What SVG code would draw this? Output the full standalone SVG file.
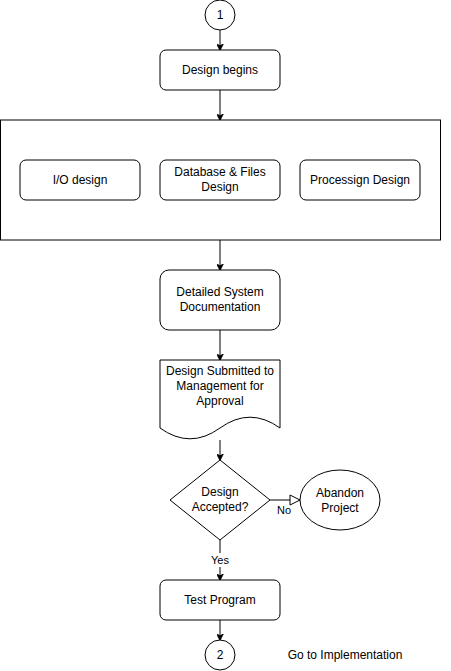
<svg xmlns="http://www.w3.org/2000/svg" width="451" height="671" viewBox="0 0 451 671">
<style>
.s{fill:#fff;stroke:#000;stroke-width:1}
.t{font-family:"Liberation Sans",Arial,sans-serif;font-size:12px;fill:#000;text-anchor:middle;dominant-baseline:central}
.e{fill:none;stroke:#000;stroke-width:1}
.lbl{font-family:"Liberation Sans",Arial,sans-serif;font-size:11px;fill:#000;text-anchor:middle;dominant-baseline:central}
</style>
<defs>
<marker id="a" viewBox="0 0 10 10" refX="9" refY="5" markerWidth="7" markerHeight="7" markerUnits="userSpaceOnUse" orient="auto">
<path d="M0,0 L10,5 L0,10 L3,5 Z" fill="#000" stroke="#000" stroke-width="1"/>
</marker>
<marker id="b" viewBox="0 0 12 12" refX="11" refY="6" markerWidth="12" markerHeight="12" markerUnits="userSpaceOnUse" orient="auto">
<path d="M1,1 L11,6 L1,11 Z" fill="#fff" stroke="#000" stroke-width="1"/>
</marker>
</defs>
<rect width="451" height="671" fill="#fff"/>
<g id="connectors">
<line class="e" x1="220" y1="30" x2="220" y2="50" marker-end="url(#a)"/>
<line class="e" x1="220" y1="90" x2="220" y2="120" marker-end="url(#a)"/>
<line class="e" x1="220" y1="240" x2="220" y2="270" marker-end="url(#a)"/>
<line class="e" x1="220" y1="330" x2="220" y2="360" marker-end="url(#a)"/>
<line class="e" x1="220" y1="440" x2="220" y2="460" marker-end="url(#a)"/>
<line class="e" x1="270" y1="500" x2="300" y2="500" marker-end="url(#b)"/>
<text class="lbl" x="284" y="510" style="fill:#000">No</text>
<line class="e" x1="220" y1="540" x2="220" y2="580" marker-end="url(#a)"/>
<rect x="208" y="553" width="24" height="14" fill="#fff"/>
<text class="lbl" x="220" y="560">Yes</text>
<line class="e" x1="220" y1="620" x2="220" y2="640" marker-end="url(#a)"/>
</g>
<g id="start">
<circle class="s" cx="220" cy="15" r="15"/>
<text class="t" x="220" y="15">1</text>
</g>
<g id="design-begins">
<rect class="s" x="160" y="50" width="120" height="40" rx="6"/>
<text class="t" x="220" y="70">Design begins</text>
</g>
<g id="container">
<rect class="s" x="0.5" y="120" width="440" height="120"/>
</g>
<g id="io-design">
<rect class="s" x="20" y="160" width="120" height="40" rx="6"/>
<text class="t" x="80" y="180">I/O design</text>
</g>
<g id="database-design">
<rect class="s" x="160" y="160" width="120" height="40" rx="6"/>
<text class="t" x="220" y="172">Database &amp; Files</text>
<text class="t" x="220" y="187">Design</text>
</g>
<g id="processing-design">
<rect class="s" x="300" y="160" width="120" height="40" rx="6"/>
<text class="t" x="360" y="180">Processign Design</text>
</g>
<g id="documentation">
<rect class="s" x="160" y="270" width="120" height="60" rx="9"/>
<text class="t" x="220" y="292">Detailed System</text>
<text class="t" x="220" y="307">Documentation</text>
</g>
<g id="submitted">
<path class="s" d="M160,360 L280,360 L280,428 Q250,406.4 220,428 Q190,449.6 160,428 Z"/>
<text class="t" x="220" y="371">Design Submitted to</text>
<text class="t" x="220" y="386">Management for</text>
<text class="t" x="220" y="401">Approval</text>
</g>
<g id="accepted">
<path class="s" d="M220,460 L270,500 L220,540 L170,500 Z"/>
<text class="t" x="220" y="492">Design</text>
<text class="t" x="220" y="507">Accepted?</text>
</g>
<g id="abandon">
<ellipse class="s" cx="340" cy="500" rx="40" ry="30"/>
<text class="t" x="340" y="493">Abandon</text>
<text class="t" x="340" y="508">Project</text>
</g>
<g id="test-program">
<rect class="s" x="160" y="580" width="120" height="40" rx="6"/>
<text class="t" x="220" y="600">Test Program</text>
</g>
<g id="end">
<circle class="s" cx="220" cy="655" r="15"/>
<text class="t" x="220" y="655">2</text>
</g>
<g id="end-label">
<text class="t" x="345" y="655">Go to Implementation</text>
</g>
</svg>
